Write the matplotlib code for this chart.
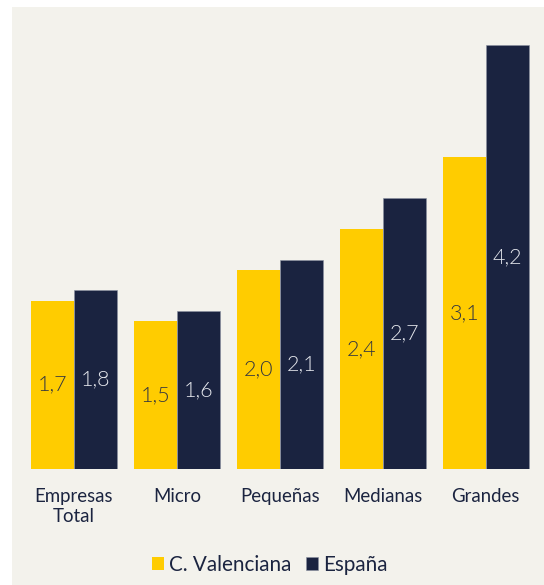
import numpy as np
import matplotlib
matplotlib.use("Agg")
import matplotlib.pyplot as plt
from matplotlib.patches import Rectangle

BG = "#F3F2EC"
YELLOW = "#FFCC00"
NAVY = "#1A2340"
TEXT = "#1B2440"

categories = ["Empresas\nTotal", "Micro", "Pequeñas", "Medianas", "Grandes"]
valenciana = [1.7, 1.5, 2.0, 2.4, 3.1]
espana = [1.8, 1.6, 2.1, 2.7, 4.2]

plt.rcParams["font.family"] = ["Lato", "DejaVu Sans"]

fig = plt.figure(figsize=(5.44, 5.85), dpi=100, facecolor="white")
# beige panel behind everything
fig.patches.append(Rectangle((12 / 544, 0), 1, 1 - 7 / 585, transform=fig.transFigure,
                             facecolor=BG, edgecolor="none", zorder=-10))

ax = fig.add_axes([12 / 544, 116 / 585, 532 / 544, 464.8 / 585])
ax.set_facecolor("none")

x = np.arange(len(categories))
w = 0.417
b1 = ax.bar(x - w / 2, valenciana, w, color=YELLOW, label="C. Valenciana")
b2 = ax.bar(x + w / 2, espana, w, color=NAVY, edgecolor="#8A90A0", linewidth=0.4,
            label="España")

fmt = lambda v: f"{v:.1f}".replace(".", ",")
ax.bar_label(b1, labels=[fmt(v) for v in valenciana], label_type="center",
             fontsize=15.5, fontweight=300, color="#333640")
ax.bar_label(b2, labels=[fmt(v) for v in espana], label_type="center",
             fontsize=15.5, fontweight=300, color="#E4E6EC")

ax.set_xlim(-0.6, 4.565)
ax.set_ylim(0.052, 4.6)
ax.set_yticks([])
ax.set_xticks(x)
ax.set_xticklabels(categories, fontsize=13.4, color=TEXT, linespacing=1.2)
ax.tick_params(axis="x", length=0, pad=14)
for s in ax.spines.values():
    s.set_visible(False)

ax.legend(loc="center", bbox_to_anchor=(0.484, -0.207), ncol=2, frameon=False,
          fontsize=14.9, labelcolor=TEXT, handlelength=0.58, handleheight=0.58,
          handletextpad=0.25, columnspacing=0.7)

fig.savefig("out.png", dpi=100, facecolor=fig.get_facecolor())
